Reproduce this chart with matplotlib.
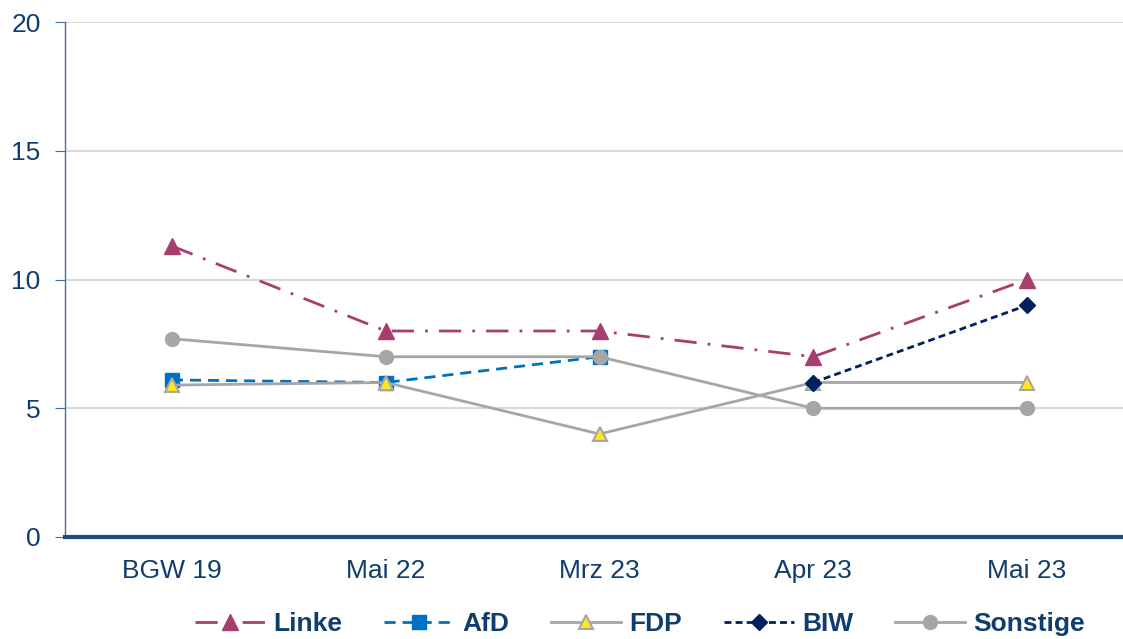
import matplotlib
matplotlib.use("Agg")
import matplotlib.pyplot as plt
import numpy as np

categories = ["BGW 19", "Mai 22", "Mrz 23", "Apr 23", "Mai 23"]
linke = [11.3, 8, 8, 7, 10]
afd = [6.1, 6, 7, np.nan, np.nan]
fdp = [5.9, 6, 4, 6, 6]
biw = [np.nan, np.nan, np.nan, 6, 9]
sonstige = [7.7, 7, 7, 5, 5]

plt.rcParams['font.family'] = ['Liberation Sans', 'DejaVu Sans']

fig = plt.figure(figsize=(11.23, 6.39), dpi=100)
W, H = 1123, 639
x0, x1 = 65, 1134
y0, y1 = 537, 22
ax = fig.add_axes([x0 / W, 1 - y0 / H, (x1 - x0) / W, (y0 - y1) / H])

x = np.arange(len(categories))
textc = "#0f3d6e"

ax.plot(x, sonstige, color="#a6a6a6", lw=2, marker="o", ms=10, mfc="#a6a6a6", mec="#a6a6a6",
        label="Sonstige", zorder=3)
ax.plot(x, fdp, color="#a6a6a6", lw=2, marker="^", ms=10, mfc="#ffe81a", mec="#a6a6a6", mew=1.5,
        label="FDP", zorder=4)
ax.plot(x, afd, color="#0070c0", lw=2, ls=(0, (4, 2.5)), marker="s", ms=10, mfc="#0070c0", mec="#0070c0",
        label="AfD", zorder=2)
ax.plot(x, biw, color="#002060", lw=2, ls=(0, (2.5, 1.5)), marker="D", ms=8, mfc="#002060", mec="#002060",
        label="BIW", zorder=5)
ax.plot(x, linke, color="#a83e6d", lw=2, ls=(0, (8, 4, 1, 4)), marker="^", ms=11, mfc="#a83e6d", mec="#a83e6d",
        label="Linke", zorder=6)

ax.set_xlim(-0.5, 4.5)
ax.set_ylim(0, 20)
ax.set_yticks([0, 5, 10, 15, 20])
ax.set_xticks(x)
ax.set_xticklabels(categories)
ax.grid(axis="y", color="#d9d9d9", lw=1.5)
ax.set_axisbelow(True)

for s in ["top", "right"]:
    ax.spines[s].set_visible(False)
ax.spines["left"].set_color("#4a6f96")
ax.spines["left"].set_linewidth(1)
ax.spines["bottom"].set_color("#1f4e85")
ax.spines["bottom"].set_linewidth(3)
ax.spines["bottom"].set_zorder(10)

ax.tick_params(axis="y", length=7, color="#4a6f96", labelsize=19, labelcolor=textc, pad=10.5)
ax.tick_params(axis="x", length=0, labelsize=19, labelcolor=textc, pad=16)

handles, labels = ax.get_legend_handles_labels()
order = ["Linke", "AfD", "FDP", "BIW", "Sonstige"]
hmap = dict(zip(labels, handles))
leg = fig.legend([hmap[l] for l in order], order, loc="center", bbox_to_anchor=(640 / W, 1 - 624 / H),
                 ncol=5, frameon=False, handlelength=2.65, columnspacing=1.6, handletextpad=0.3,
                 borderpad=0, prop={"weight": "bold", "size": 19})
for t in leg.get_texts():
    t.set_color(textc)

fig.savefig("out.png", dpi=100)
